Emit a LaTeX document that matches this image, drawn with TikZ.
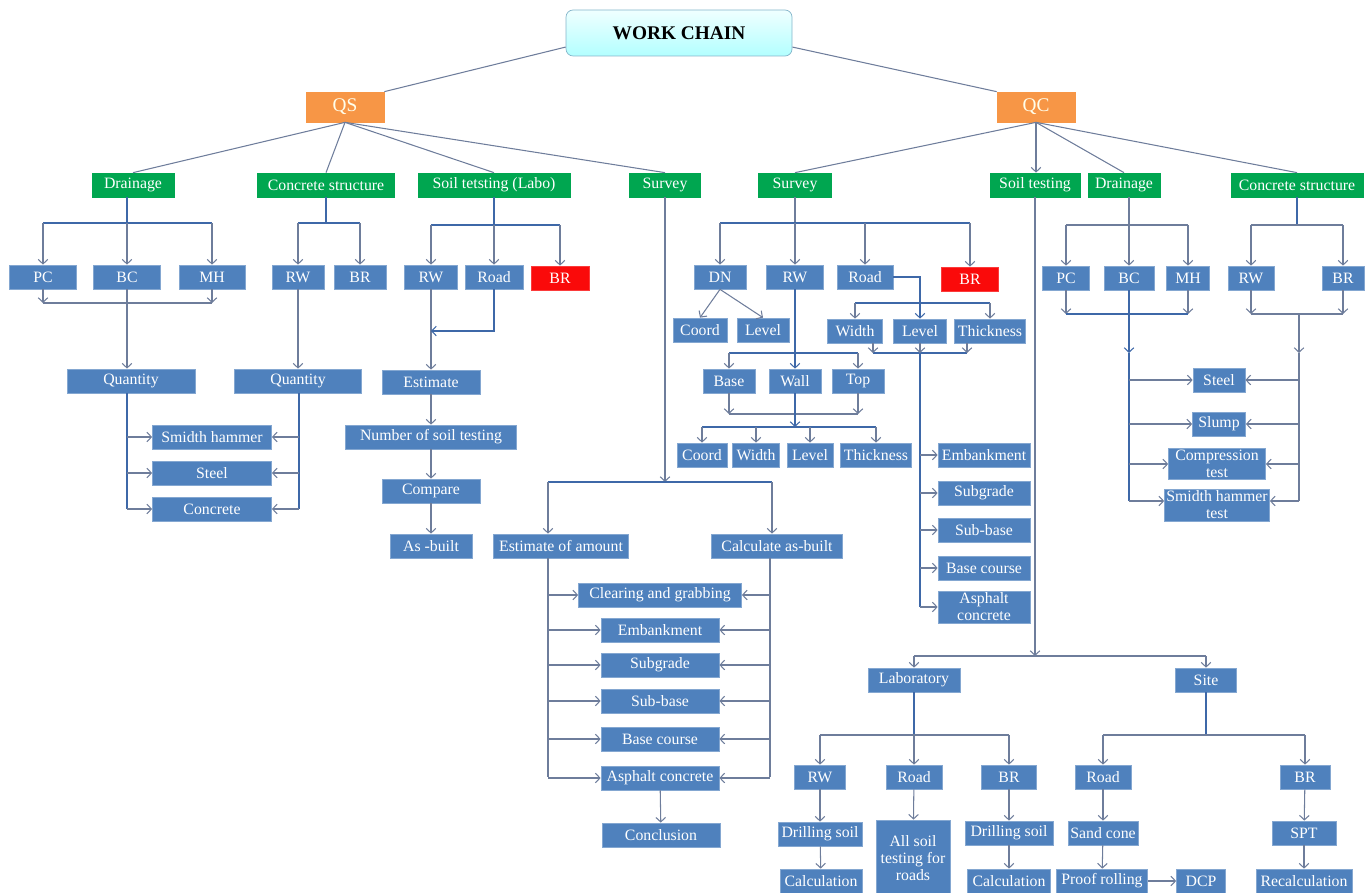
\documentclass[tikz,border=0pt]{standalone}
\usepackage{fontspec}
\setmainfont{Liberation Serif}
\usepackage{tikz}
\usetikzlibrary{arrows.meta}
\definecolor{boxblue}{RGB}{79,129,189}
\definecolor{grnfill}{RGB}{0,166,80}
\definecolor{orgfill}{RGB}{247,150,70}
\definecolor{redfill}{RGB}{250,10,10}
\definecolor{lncol}{RGB}{110,125,155}
\definecolor{tkcol}{RGB}{62,104,168}
\tikzset{box/.style={rectangle,fill=boxblue,draw=boxblue!70!white,line width=0.4pt,text=white,inner sep=1pt,minimum height=24*0.02cm,font=\fontsize{9}{9.6}\selectfont,align=center},
  grn/.style={box,fill=grnfill,draw=grnfill},
  org/.style={box,fill=orgfill,draw=orgfill,minimum height=30*0.02cm,text=yellow!8!white,font=\fontsize{11}{12}\selectfont},
  redbox/.style={box,fill=redfill,draw=redfill!80!white},
  titlebox/.style={rectangle,rounded corners=4pt,draw=cyan!45!gray!80,top color=cyan!6,bottom color=cyan!30,minimum width=226*0.02cm,minimum height=46*0.02cm,font=\fontsize{11}{12}\selectfont\bfseries},
  wd/.style={minimum width=#1*0.02cm},
  ht/.style={minimum height=#1*0.02cm},
  ln/.style={draw=lncol,line width=0.6pt},
  tk/.style={draw=tkcol,line width=1.3pt}}

\begin{document}
\begin{tikzpicture}[>={Straight Barb[length=2.6pt,width=5.5pt,line width=0.6pt]},x=0.02cm,y=-0.02cm]
    \useasboundingbox (0,0) rectangle (1368,892);
    \node[titlebox] (wc) at (679,33) {WORK CHAIN};
    \node[org,wd=78] (qs) at (345,107) {QS};
    \node[org,wd=78] (qc) at (1036,107) {QC};
    \draw [ln] ([yshift=-8pt]wc.west) to [] (qs.north east);
    \draw [ln] ([yshift=-8pt]wc.east) to [] (qc.north west);

    \node[grn,wd=82] (drn) at (133,185) {Drainage};
    \node[grn,wd=137] (cst) at (326,185) {Concrete structure};
    \node[grn,wd=152] (stl) at (494,185) {Soil tetsting (Labo)};
    \node[grn,wd=71] (svy) at (665,185) {Survey};
    \node[grn,wd=73] (svq) at (795,185) {Survey};
    \node[grn,wd=90] (stq) at (1035,185) {Soil testing};
    \node[grn,wd=72] (drq) at (1124,185) {Drainage};
    \node[grn,wd=132] (csq) at (1297,185) {Concrete structure};
    \foreach \n in {drn,cst,stl,svy} \draw [ln] (qs.south) to [] (\n.north);
    \foreach \n in {svq,drq,csq} \draw [ln] (qc.south) to [] (\n.north);
    \draw [ln,->] (qc.south) to [] (qc.south |- stq.north);

    \node[box,wd=67] (pc) at (43,277) {PC};
    \node[box,wd=67] (bc) at (127,277) {BC};
    \node[box,wd=66] (mh) at (212,277) {MH};
    \node[box,wd=128] (qty) at (131,381) {Quantity};
    \node[box,wd=119] (shA) at (212,437) {Smidth hammer};
    \node[box,wd=119] (stA) at (212,473) {Steel};
    \node[box,wd=119] (ccA) at (212,509) {Concrete};
    \draw [tk] (bc.north |- drn.south) -- (bc.north |- 0,223);
    \draw [tk] (pc.north |- 0,223) -- (mh.north |- 0,223);
    \foreach \n in {pc,bc,mh} \draw [ln,->] (\n.north |- 0,223) -- (\n.north);
    \foreach \n in {pc,mh} \draw [ln,->] (\n.south) -- (\n.south |- 0,303);
    \draw [ln] (pc.south |- 0,303) -- (mh.south |- 0,303);
    \draw [ln,->] (bc.south) -- (bc.south |- qty.north);
    \coordinate (qa) at (127,509);
    \draw [tk] (qa |- qty.south) -- (qa);
    \foreach \n in {shA,stA,ccA} \draw [ln,->] (qa |- \n) -- (\n.west);

    \node[box,wd=52] (rwA) at (298,277) {RW};
    \node[box,wd=52] (brA) at (360,277) {BR};
    \node[box,wd=127] (qtyB) at (298,381) {Quantity};
    \draw [tk] (cst.south) -- (cst.south |- 0,223);
    \draw [tk] (rwA.north |- 0,223) -- (brA.north |- 0,223);
    \foreach \n in {rwA,brA} \draw [ln,->] (\n.north |- 0,223) -- (\n.north);
    \draw [ln,->] (rwA.south) to [] (qtyB.north);
    \coordinate (qb) at (299,509);
    \draw [tk] (qb |- qtyB.south) -- (qb);
    \foreach \n in {shA,stA,ccA} \draw [ln,->] (qb |- \n) -- (\n.east);

    \node[box,wd=53] (rwB) at (431,277) {RW};
    \node[box,wd=58] (rdB) at (494,277) {Road};
    \node[redbox,wd=58] (brB) at (560,278) {BR};
    \node[box,wd=98] (est) at (431,382) {Estimate};
    \node[box,wd=171] (nst) at (431,437) {Number of soil testing};
    \node[box,wd=98] (cmp) at (431,491) {Compare};
    \node[box,wd=82] (asb) at (431,546) {As -built};
    \draw [tk] (stl.south) -- (stl.south |- 0,225);
    \draw [tk] (rwB.north |- 0,225) -- (brB.north |- 0,225);
    \foreach \n in {rwB,rdB,brB} \draw [ln,->] (\n.north |- 0,225) -- (\n.north);
    \draw [ln,->] (rwB.south) to [] (est.north);
    \draw [tk,->] (rdB.south) |- (rwB.south |- 0,331);
    \draw [ln,->] (est) to [] (nst);
    \draw [ln,->] (nst) to [] (cmp);
    \draw [ln,->] (cmp) to [] (asb);

    \node[box,wd=135] (eoa) at (561,546) {Estimate of amount};
    \node[box,wd=131] (cab) at (777,546) {Calculate as-built};
    \node[box,wd=163] (clr) at (660,595) {Clearing and grabbing};
    \node[box,wd=118] (emb) at (660,630) {Embankment};
    \node[box,wd=118] (sbg) at (660,665) {Subgrade};
    \node[box,wd=118] (sbb) at (660,701) {Sub-base};
    \node[box,wd=118] (bcs) at (660,739) {Base course};
    \node[box,wd=118] (asp) at (660,778) {Asphalt concrete};
    \node[box,wd=118] (con) at (661,835) {Conclusion};
    \coordinate (ea) at (548,482);
    \coordinate (cb) at (772,482);
    \draw [ln,->] (svy.south) -- (svy.south |- ea);
    \draw [tk] (ea) -- (cb);
    \draw [ln,->] (ea) -- (ea |- eoa.north);
    \draw [ln,->] (cb) -- (cb |- cab.north);
    \coordinate (ev) at (548,777);
    \coordinate (cv) at (770,777);
    \draw [ln] (ev |- eoa.south) -- (ev);
    \draw [ln] (cv |- cab.south) -- (cv);
    \foreach \n in {clr,emb,sbg,sbb,bcs,asp} {
      \draw [ln,->] (ev |- \n) -- (\n.west);
      \draw [ln,->] (cv |- \n) -- (\n.east);
    }
    \draw [ln,->] (asp) to [] (con);

    \node[box,wd=52] (dn) at (720,277) {DN};
    \node[box,wd=57] (rwC) at (795,277) {RW};
    \node[box,wd=56] (rdC) at (865,277) {Road};
    \node[redbox,wd=57] (brC) at (970,279) {BR};
    \draw [ln] (svq.south) -- (svq.south |- 0,223);
    \draw [tk] (dn.north |- 0,223) -- (brC.north |- 0,223);
    \foreach \n in {dn,rwC,rdC,brC} \draw [ln,->] (\n.north |- 0,223) -- (\n.north);
    \node[box,wd=54] (crdA) at (700,330) {Coord};
    \node[box,wd=52] (lvA) at (763,330) {Level};
    \draw [ln,->] (dn.south) to [] (crdA.north);
    \draw [ln,->] (dn.south) to [] (lvA.north);

    \node[box,wd=55] (wdB) at (855,331) {Width};
    \node[box,wd=53] (lvB) at (920,331) {Level};
    \node[box,wd=71] (thB) at (990,331) {Thickness};
    \draw [tk,->] (rdC.east) -| (lvB.north);
    \draw [tk] (wdB.north |- 0,303) -- (thB.north |- 0,303);
    \foreach \n in {wdB,thB} \draw [ln,->] (\n.north |- 0,303) -- (\n.north);
    \coordinate (wl) at (873,353);
    \coordinate (tl) at (967,353);
    \draw [tk] (wl) -- (tl);
    \draw [ln,->] (wl |- wdB.south) -- (wl);
    \draw [ln,->] (tl |- thB.south) -- (tl);
    \draw [ln,->] (lvB.south) -- (lvB.south |- wl);
    \node[box,wd=92] (embB) at (984,455) {Embankment};
    \node[box,wd=92] (sbgB) at (984,493) {Subgrade};
    \node[box,wd=92] (sbbB) at (984,530) {Sub-base};
    \node[box,wd=92] (bcsB) at (984,568) {Base course};
    \node[box,wd=92,ht=32] (aspB) at (984,607) {Asphalt\\concrete};
    \coordinate (lv) at (920,607);
    \draw [tk] (lvB.south |- wl) -- (lv);
    \foreach \n in {embB,sbgB,sbbB,bcsB,aspB} \draw [ln,->] (lv |- \n) -- (\n.west);

    \node[box,wd=52] (base) at (729,381) {Base};
    \node[box,wd=52] (wall) at (795,381) {Wall};
    \node[box,wd=52] (top) at (858,381) {Top};
    \draw [tk,->] (rwC.south) to [] (wall.north);
    \draw [tk] (base.north |- 0,353) -- (top.north |- 0,353);
    \foreach \n in {base,top} \draw [ln,->] (\n.north |- 0,353) -- (\n.north);
    \foreach \n in {base,top} \draw [ln,->] (\n.south) -- (\n.south |- 0,414);
    \draw [ln] (base.south |- 0,414) -- (top.south |- 0,414);
    \node[box,wd=50] (crdB) at (702,455) {Coord};
    \node[box,wd=47] (wdC) at (756,455) {Width};
    \node[box,wd=46] (lvC) at (810,455) {Level};
    \node[box,wd=71] (thC) at (876,455) {Thickness};
    \draw [tk,->] (wall.south) -- (wall.south |- 0,427);
    \draw [tk] (crdB.north |- 0,427) -- (thC.north |- 0,427);
    \foreach \n in {crdB,wdC,lvC,thC} \draw [ln,->] (\n.north |- 0,427) -- (\n.north);

    \node[box,wd=92] (lab) at (914,680) {Laboratory};
    \node[box,wd=61] (site) at (1206,680) {Site};
    \coordinate (sb) at (1035,656);
    \draw [ln,->] (stq.south) -- (sb);
    \draw [ln] (lab.north |- sb) -- (site.north |- sb);
    \foreach \n in {lab,site} \draw [ln,->] (\n.north |- sb) -- (\n.north);
    \node[box,wd=51] (rwD) at (820,777) {RW};
    \node[box,wd=56] (rdD) at (914,777) {Road};
    \node[box,wd=55] (brD) at (1009,777) {BR};
    \node[box,wd=56] (rdE) at (1103,777) {Road};
    \node[box,wd=50] (brE) at (1305,777) {BR};
    \draw [tk] (lab.south) -- (lab.south |- 0,735);
    \draw [ln] (rwD.north |- 0,735) -- (brD.north |- 0,735);
    \foreach \n in {rwD,rdD,brD} \draw [ln,->] (\n.north |- 0,735) -- (\n.north);
    \draw [tk] (site.south) -- (site.south |- 0,735);
    \draw [ln] (rdE.north |- 0,735) -- (brE.north |- 0,735);
    \foreach \n in {rdE,brE} \draw [ln,->] (\n.north |- 0,735) -- (\n.north);
    \node[box,wd=84] (dsA) at (820,834) {Drilling soil};
    \node[box,wd=74,ht=76] (allS) at (913,858) {All soil\\testing for\\roads};
    \node[box,wd=88] (dsB) at (1009,833) {Drilling soil};
    \node[box,wd=70] (snd) at (1103,833) {Sand cone};
    \node[box,wd=64] (spt) at (1304,833) {SPT};
    \node[box,wd=82] (calA) at (821,881) {Calculation};
    \node[box,wd=83] (calB) at (1009,881) {Calculation};
    \node[box,wd=91] (prf) at (1102,881) {Proof rolling};
    \node[box,wd=49] (dcp) at (1201,881) {DCP};
    \node[box,wd=96] (rcl) at (1304,881) {Recalculation};
    \draw [ln,->] (rwD) to [] (dsA);
    \draw [ln,->] (dsA) to [] (calA);
    \draw [ln,->] (rdD) to [] (allS);
    \draw [ln,->] (brD) to [] (dsB);
    \draw [ln,->] (dsB) to [] (calB);
    \draw [ln,->] (rdE) to [] (snd);
    \draw [ln,->] (snd) to [] (prf);
    \draw [ln,->] (prf) to [] (dcp);
    \draw [ln,->] (brE) to [] (spt);
    \draw [ln,->] (spt) to [] (rcl);

    \node[box,wd=47] (pcB) at (1066,278) {PC};
    \node[box,wd=50] (bcB) at (1129,278) {BC};
    \node[box,wd=43] (mhB) at (1188,278) {MH};
    \draw [ln] (bcB.north |- drq.south) -- (bcB.north |- 0,225);
    \draw [ln] (pcB.north |- 0,225) -- (mhB.north |- 0,225);
    \foreach \n in {pcB,bcB,mhB} \draw [ln,->] (\n.north |- 0,225) -- (\n.north);
    \foreach \n in {pcB,mhB} \draw [ln,->] (\n.south) -- (\n.south |- 0,314);
    \draw [tk] (pcB.south |- 0,314) -- (mhB.south |- 0,314);
    \node[box,wd=52] (stlC) at (1219,380) {Steel};
    \node[box,wd=53] (slp) at (1219,424) {Slump};
    \node[box,wd=97,ht=30] (cmt) at (1217,464) {Compression\\test};
    \node[box,wd=97,ht=32] (sht) at (1217,505) {Smidth hammer\\test};
    \coordinate (dv) at (1129,501);
    \draw [tk,->] (bcB.south) -- (bcB.south |- 0,353);
    \draw [tk] (dv |- 0,353) -- (dv);
    \foreach \n in {stlC,slp,cmt} \draw [ln,->] (dv |- \n) -- (\n.west);
    \draw [ln,->] (dv) -- (dv -| sht.west);

    \node[box,wd=46] (rwE) at (1251,278) {RW};
    \node[box,wd=42] (brF) at (1343,278) {BR};
    \draw [tk] (csq.south) -- (csq.south |- 0,225);
    \draw [ln] (rwE.north |- 0,225) -- (brF.north |- 0,225);
    \foreach \n in {rwE,brF} \draw [ln,->] (\n.north |- 0,225) -- (\n.north);
    \foreach \n in {rwE,brF} \draw [ln,->] (\n.south) -- (\n.south |- 0,314);
    \draw [ln] (rwE.south |- 0,314) -- (brF.south |- 0,314);
    \coordinate (cw) at (1299,501);
    \draw [ln,->] (cw |- 0,314) -- (cw |- 0,353);
    \draw [ln] (cw |- 0,353) -- (cw);
    \foreach \n in {stlC,slp,cmt} \draw [ln,->] (cw |- \n) -- (\n.east);
    \draw [ln,->] (cw) -- (cw -| sht.east);
\end{tikzpicture}
\end{document}
